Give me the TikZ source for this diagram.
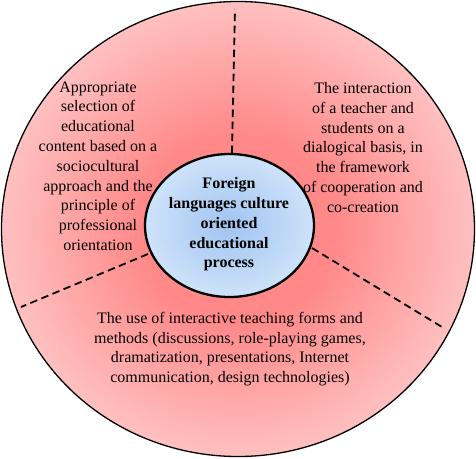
\documentclass[tikz,border=0pt]{standalone}
\usepackage{fontspec}
\setmainfont{Liberation Serif}
\usetikzlibrary{shapes.geometric}
\definecolor{pinkin}{RGB}{255,136,136}
\definecolor{pinkout}{RGB}{255,192,192}
\definecolor{bluein}{RGB}{160,196,240}
\definecolor{blueout}{RGB}{206,226,250}
\pgfdeclareradialshading{outershade}{\pgfpoint{0bp}{0bp}}{color(0bp)=(pinkin); color(10bp)=(pinkin); color(25bp)=(pinkout); color(50bp)=(pinkout)}
\pgfdeclareradialshading{innershade}{\pgfpoint{0bp}{0bp}}{color(0bp)=(bluein); color(25bp)=(blueout); color(50bp)=(blueout)}
\tikzset{
  txt/.style={align=center, font=\fontsize{16}{19.8}\selectfont, inner sep=0pt},
  sep/.style={draw=black, line width=1.8pt, dash pattern=on 7.5pt off 4.5pt},
}
\begin{document}
\begin{tikzpicture}[x=1pt,y=-1pt]
\useasboundingbox (0,0) rectangle (476,458);
\path[shading=outershade, draw=black, line width=1.3pt] (238,229) ellipse [x radius=236.5, y radius=227.5];
\coordinate (topend) at (235,9);
\coordinate (leftend) at (21,307);
\coordinate (rightend) at (442,327);
\node[ellipse, minimum width=169pt, minimum height=143pt, inner sep=0pt, draw=black, line width=2.3pt, shading=innershade] (core) at (229.5,225.5) {};
\coordinate (ctop) at (232,153);
\coordinate (cleft) at (148,254);
\coordinate (cright) at (312,248);
\draw[sep] (ctop) -- (topend);
\draw[sep] (cleft) -- (leftend);
\draw[sep] (cright) -- (rightend);
\node[txt, font=\bfseries\fontsize{16}{19.8}\selectfont] (ctext) at (229,224.5) {Foreign\\languages culture\\oriented\\educational\\process};
\node[txt] (left) at (98,166) {Appropriate\\selection of\\educational\\content based on a\\sociocultural\\approach and the\\principle of\\professional\\orientation};
\node[txt] (right) at (363,147.5) {The interaction\\of a teacher and\\students on a\\dialogical basis, in\\the framework\\of cooperation and\\co-creation};
\node[txt] (bottom) at (230,349) {The use of interactive teaching forms and\\methods (discussions, role-playing games,\\dramatization, presentations, Internet\\communication, design technologies)};
\end{tikzpicture}
\end{document}
